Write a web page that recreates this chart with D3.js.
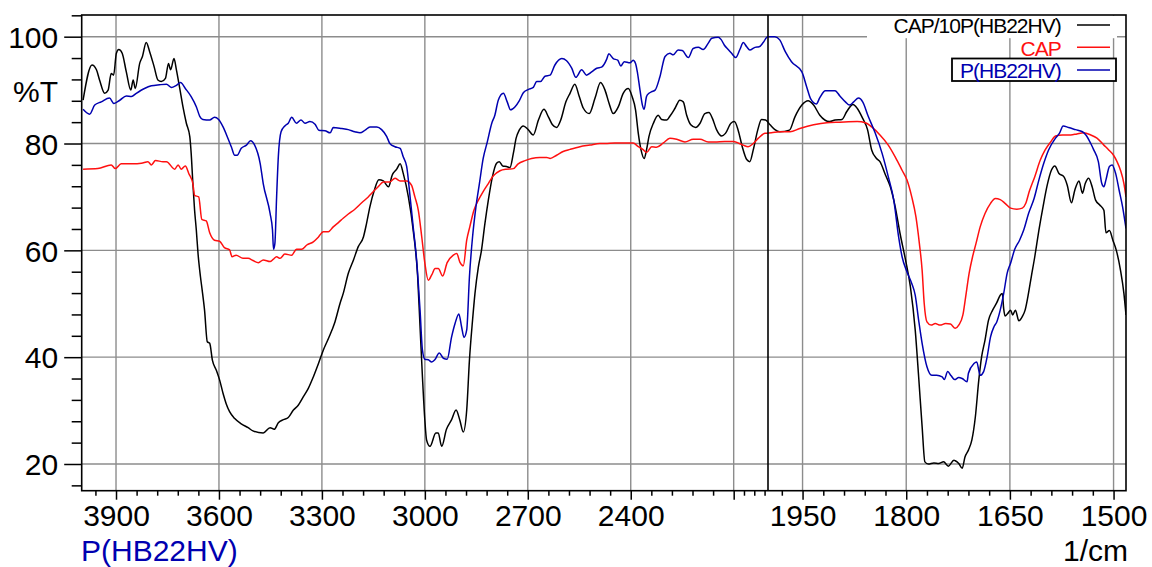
<!DOCTYPE html>
<html>
<head>
<meta charset="utf-8">
<script src="https://cdn.jsdelivr.net/npm/d3@7"></script>
<style>
  html, body { margin: 0; padding: 0; background: #fff; }
  svg { display: block; font-family: "Liberation Sans", Arial, Helvetica, sans-serif; }
</style>
</head>
<body>
<svg id="chart" width="1152" height="567"></svg>
<script>
// ---- Spectra: [wavenumber (1/cm), transmittance (%T)] ----
const capRatio = [ // CAP/10P(HB22HV)
  [3996,88.1],[3970,94.7],[3957,93.8],[3948,91.9],[3933,89.4],[3923,90.0],[3914,93.1],[3907,92.8],[3899,96.9],[3892,97.6],
  [3882,96.9],[3870,93.4],[3857,90.0],[3850,91.9],[3844,90.3],[3831,95.0],[3823,96.3],[3812,98.9],[3802,97.2],[3789,94.4],
  [3778,91.9],[3768,91.6],[3756,92.2],[3747,95.0],[3741,93.8],[3731,95.9],[3724,93.8],[3715,90.6],[3705,86.9],[3695,83.8],
  [3685,81.3],[3681,78.2],[3676,72.5],[3671,67.5],[3666,63.8],[3661,59.4],[3654,55.1],[3649,52.6],[3642,48.8],[3634,42.9],
  [3627,42.6],[3619,39.4],[3608,37.6],[3598,35.7],[3588,33.2],[3579,31.3],[3569,29.8],[3554,28.5],[3535,27.5],[3515,26.8],
  [3501,26.2],[3471,25.8],[3451,26.8],[3439,26.5],[3427,27.7],[3412,28.3],[3398,28.7],[3383,30.1],[3369,31.0],[3354,32.6],
  [3340,34.1],[3325,36.3],[3310,38.8],[3296,41.3],[3281,43.5],[3262,46.6],[3247,50.1],[3238,51.9],[3223,55.7],[3208,58.2],
  [3194,60.7],[3179,62.5],[3170,65.0],[3160,68.2],[3147,71.3],[3134,73.2],[3121,73.0],[3106,71.9],[3095,74.1],[3082,75.2],
  [3072,76.2],[3063,74.4],[3048,70.0],[3034,63.8],[3021,55.1],[3014,45.7],[3007,36.3],[3000,28.2],[2995,24.5],[2985,23.3],
  [2968,25.8],[2961,25.8],[2951,23.3],[2937,26.5],[2922,28.3],[2909,30.1],[2898,28.2],[2888,26.0],[2878,30.1],[2870,39.5],
  [2861,46.9],[2854,51.9],[2844,56.9],[2835,60.0],[2825,65.0],[2815,69.4],[2803,73.8],[2791,76.3],[2783,76.6],[2773,75.8],
  [2762,75.7],[2752,75.5],[2742,78.2],[2734,81.0],[2725,82.5],[2713,83.3],[2699,82.6],[2684,81.6],[2669,84.4],[2653,86.4],
  [2640,85.0],[2628,83.5],[2616,83.0],[2604,84.4],[2589,87.8],[2577,89.4],[2563,91.1],[2550,88.8],[2538,86.6],[2521,85.6],
  [2504,88.5],[2488,91.4],[2475,90.0],[2463,87.5],[2451,85.6],[2436,86.9],[2422,89.4],[2407,90.3],[2396,88.8],[2386,86.3],
  [2378,81.9],[2370,78.8],[2361,77.2],[2354,78.8],[2347,81.3],[2334,83.8],[2320,85.3],[2310,84.5],[2295,84.4],[2286,85.1],
  [2271,86.6],[2257,88.1],[2247,87.8],[2237,85.3],[2225,83.5],[2211,83.0],[2198,83.8],[2184,85.6],[2172,85.8],[2162,84.7],
  [2150,82.6],[2135,81.4],[2124,81.9],[2108,83.8],[2098,84.1],[2087,82.5],[2075,79.4],[2062,77.0],[2053,76.6],[2043,78.8],
  [2030,82.5],[2019,84.5],[2007,84.4],[1997,83.5],[1990,82.6],[1983,82.2],[1969,82.5],[1961,85.0],[1951,87.2],[1942,88.0],
  [1934,87.2],[1925,85.3],[1911,84.1],[1903,84.4],[1893,84.5],[1886,86.0],[1877,87.3],[1871,86.6],[1863,84.7],[1856,82.6],
  [1850,78.8],[1843,77.2],[1838,76.6],[1830,74.1],[1823,71.9],[1816,68.2],[1809,63.2],[1801,58.2],[1794,53.2],[1787,45.1],
  [1782,36.3],[1777,27.0],[1773,20.4],[1768,20.0],[1760,20.2],[1753,20.1],[1746,20.4],[1739,19.6],[1731,20.7],[1729,20.6],
  [1724,20.1],[1719,19.2],[1715,21.3],[1710,22.6],[1705,24.5],[1700,28.8],[1695,35.7],[1691,40.0],[1686,43.2],[1681,46.9],
  [1675,48.8],[1669,50.2],[1664,51.6],[1661,51.9],[1659,49.1],[1657,47.7],[1653,48.2],[1649,48.8],[1646,47.9],[1642,48.8],
  [1637,46.8],[1632,47.6],[1628,48.8],[1624,51.3],[1619,55.1],[1614,58.8],[1608,63.8],[1602,68.2],[1596,72.2],[1590,75.0],
  [1585,75.8],[1579,74.4],[1572,73.8],[1567,72.2],[1561,68.9],[1556,71.3],[1550,73.0],[1545,70.7],[1541,72.5],[1536,73.5],
  [1531,71.9],[1526,69.4],[1520,68.5],[1514,67.5],[1511,63.3],[1506,63.7],[1501,61.9],[1496,60.0],[1490,56.3],[1485,51.9],
  [1482,47.9]
];

const cap = [ // CAP
  [3996,75.2],[3953,75.3],[3914,76.0],[3902,75.3],[3885,76.2],[3851,76.2],[3826,76.3],[3807,76.6],[3797,76.0],[3785,76.8],
  [3763,76.6],[3753,76.6],[3729,75.2],[3719,76.0],[3710,75.2],[3698,75.8],[3688,74.4],[3676,72.5],[3671,70.3],[3659,70.0],
  [3650,65.8],[3637,65.5],[3627,63.3],[3613,61.9],[3598,61.7],[3584,60.5],[3569,60.1],[3562,58.8],[3550,59.1],[3530,58.5],
  [3515,58.5],[3501,58.1],[3485,57.7],[3471,58.2],[3451,57.9],[3442,58.3],[3432,58.8],[3422,58.5],[3408,59.3],[3388,59.1],
  [3374,60.2],[3359,60.2],[3344,61.0],[3325,61.6],[3310,62.5],[3296,63.5],[3281,63.5],[3267,64.4],[3252,65.2],[3238,66.0],
  [3223,66.8],[3204,67.7],[3184,68.9],[3165,70.0],[3150,71.0],[3136,71.9],[3121,72.8],[3102,72.8],[3087,73.5],[3072,73.0],
  [3053,73.0],[3039,72.2],[3029,70.0],[3019,67.5],[3009,62.5],[3000,57.6],[2990,54.4],[2980,55.4],[2970,56.6],[2961,56.6],
  [2948,55.2],[2935,57.7],[2917,59.1],[2907,59.4],[2898,57.8],[2888,57.1],[2878,61.9],[2869,64.4],[2857,67.5],[2844,69.4],
  [2830,71.0],[2815,72.5],[2801,73.9],[2781,74.9],[2762,75.2],[2742,75.3],[2728,76.2],[2708,76.8],[2689,77.2],[2665,77.4],
  [2645,77.4],[2635,77.2],[2616,77.8],[2597,78.5],[2577,78.9],[2548,79.4],[2519,79.7],[2490,80.0],[2475,80.0],[2446,80.1],
  [2393,80.1],[2378,79.4],[2363,78.8],[2354,78.3],[2339,79.4],[2325,79.3],[2305,80.1],[2286,81.0],[2266,80.8],[2242,80.3],
  [2218,80.8],[2198,80.8],[2174,80.3],[2155,80.3],[2126,80.4],[2101,80.4],[2087,80.1],[2072,79.7],[2058,79.4],[2043,80.0],
  [2028,81.0],[2009,81.9],[1995,82.0],[1983,82.2],[1968,82.2],[1954,82.8],[1934,83.5],[1915,83.9],[1896,84.0],[1871,84.1],
  [1859,83.9],[1850,83.1],[1838,81.6],[1826,79.7],[1816,77.5],[1806,75.0],[1799,73.2],[1792,70.0],[1786,66.3],[1781,61.3],
  [1777,56.3],[1774,50.1],[1770,46.6],[1764,46.0],[1758,46.3],[1751,46.0],[1743,46.3],[1736,46.2],[1729,45.4],[1724,46.0],
  [1718,47.9],[1714,51.3],[1709,55.7],[1704,58.8],[1699,61.3],[1693,64.4],[1686,66.9],[1678,68.8],[1671,69.7],[1664,69.5],
  [1657,68.8],[1649,67.9],[1640,67.7],[1632,67.9],[1627,68.8],[1622,71.0],[1614,73.8],[1606,76.9],[1599,78.8],[1591,80.3],
  [1584,81.4],[1574,81.6],[1562,81.6],[1553,81.8],[1543,82.0],[1533,81.6],[1524,81.0],[1514,79.7],[1507,78.8],[1500,77.8],
  [1495,76.6],[1490,75.0],[1485,72.5],[1482,70.0]
];

const pHB = [ // P(HB22HV)
  [3996,86.4],[3977,85.5],[3962,87.2],[3943,87.8],[3919,88.5],[3906,87.5],[3889,88.1],[3870,88.9],[3855,88.8],[3841,89.4],
  [3817,90.3],[3797,90.8],[3773,91.0],[3753,91.1],[3739,90.5],[3724,90.9],[3712,91.4],[3698,90.3],[3681,88.8],[3666,86.9],
  [3656,85.1],[3647,84.5],[3627,84.4],[3613,84.9],[3601,84.5],[3588,83.1],[3574,81.0],[3564,79.4],[3554,77.8],[3547,77.8],
  [3535,79.1],[3520,79.7],[3508,80.5],[3496,79.7],[3480,76.3],[3471,72.5],[3451,66.9],[3444,63.8],[3441,60.2],[3437,61.3],
  [3432,70.0],[3427,77.5],[3419,82.2],[3408,83.3],[3398,83.8],[3388,84.9],[3374,83.8],[3361,84.4],[3349,83.8],[3335,84.1],
  [3320,83.6],[3309,82.5],[3291,82.4],[3276,82.0],[3267,83.0],[3242,82.8],[3223,82.6],[3204,82.2],[3189,82.0],[3174,82.5],
  [3160,83.1],[3140,83.1],[3126,82.6],[3111,81.3],[3102,80.0],[3087,79.4],[3072,79.1],[3063,77.5],[3053,75.7],[3043,70.0],
  [3034,64.4],[3024,58.2],[3014,48.8],[3007,41.3],[3000,39.6],[2990,39.5],[2980,39.1],[2971,39.5],[2958,40.8],[2946,39.8],
  [2935,39.6],[2922,43.8],[2912,46.3],[2901,48.1],[2893,45.7],[2886,43.7],[2878,45.1],[2870,55.1],[2861,62.5],[2851,68.2],
  [2841,72.5],[2830,77.2],[2818,80.3],[2805,83.8],[2796,85.3],[2786,88.1],[2771,89.4],[2760,87.8],[2750,86.3],[2737,86.9],
  [2725,88.0],[2713,89.5],[2699,90.1],[2684,90.5],[2674,91.6],[2663,91.6],[2650,92.6],[2635,92.8],[2621,94.7],[2601,95.9],
  [2587,95.5],[2572,94.1],[2560,92.4],[2543,93.8],[2529,92.8],[2514,93.4],[2499,94.1],[2485,94.3],[2470,95.8],[2464,96.8],
  [2451,95.9],[2438,95.6],[2429,94.5],[2419,95.3],[2402,95.1],[2393,95.6],[2386,95.0],[2380,93.1],[2373,90.0],[2366,87.2],
  [2361,86.4],[2354,88.8],[2347,89.4],[2339,89.7],[2329,90.0],[2315,92.5],[2300,96.3],[2286,96.9],[2276,96.6],[2262,97.5],
  [2250,97.4],[2232,96.1],[2218,97.8],[2203,98.0],[2189,97.6],[2174,98.8],[2164,99.7],[2145,99.9],[2137,99.5],[2127,98.4],
  [2116,97.6],[2106,96.9],[2094,96.1],[2082,97.6],[2072,98.9],[2062,98.1],[2053,97.5],[2038,98.0],[2026,98.1],[2014,98.9],
  [2001,100.0],[1995,100.0],[1990,100.0],[1983,99.4],[1975,97.2],[1966,95.3],[1951,93.4],[1944,90.6],[1938,88.3],[1930,87.4],
  [1925,88.6],[1917,89.9],[1903,89.9],[1896,88.9],[1888,87.8],[1882,87.2],[1876,87.8],[1869,88.5],[1863,87.8],[1855,85.1],
  [1845,82.0],[1835,78.2],[1826,73.8],[1818,69.4],[1811,62.5],[1806,58.8],[1799,56.0],[1792,53.8],[1787,51.6],[1782,46.9],
  [1777,42.6],[1770,38.2],[1763,36.6],[1756,36.6],[1748,36.3],[1745,35.8],[1740,37.3],[1735,36.5],[1730,35.8],[1724,36.2],
  [1719,36.0],[1712,35.4],[1710,37.0],[1702,38.8],[1698,39.1],[1693,36.6],[1688,37.3],[1683,40.0],[1678,43.8],[1673,45.7],
  [1669,46.6],[1664,48.8],[1659,51.9],[1654,55.7],[1649,57.6],[1643,60.2],[1636,61.9],[1630,63.8],[1623,66.9],[1615,69.7],
  [1608,73.2],[1601,76.3],[1594,78.8],[1584,81.0],[1578,82.0],[1573,83.3],[1565,83.0],[1555,82.6],[1545,82.2],[1540,81.6],
  [1533,80.0],[1529,78.9],[1522,76.6],[1517,72.5],[1514,71.9],[1511,73.2],[1506,75.7],[1502,76.0],[1497,74.4],[1492,71.3],
  [1487,68.2],[1482,64.1]
];

// ---- Axis ticks ----
const xLabelTicks = [3900, 3600, 3300, 3000, 2700, 2400, 1950, 1800, 1650, 1500];
const xPlainMajorTicks = [2100];
const xMinorTicks = [3960, 3840, 3780, 3720, 3660, 3540, 3480, 3420, 3360, 3240, 3180, 3120, 3060,
  2940, 2880, 2820, 2760, 2640, 2580, 2520, 2460, 2340, 2280, 2220, 2160, 2070, 2040, 2010,
  1980, 1920, 1890, 1860, 1830, 1770, 1740, 1710, 1680, 1620, 1590, 1560, 1530];
const xGridTicks = [3900, 3600, 3300, 3000, 2700, 2400, 2100, 1950, 1800, 1650, 1500];
const xBreak = 2000; // scale changes here: 4000-2000 compressed, 2000-1482 expanded
const yLabelTicks = [20, 40, 60, 80, 100];
const yMinorTicks = [16, 24, 28, 32, 36, 44, 48, 52, 56, 64, 68, 72, 76, 84, 88, 92, 96, 104];

const seriesNames = ["CAP/10P(HB22HV)", "CAP", "P(HB22HV)"];
const seriesColors = ["#000000", "#ff1010", "#0000b0"];
const seriesData = [capRatio, cap, pHB];

// ---- Layout ----
const frame = { left: 81.7, right: 1126, top: 15, bottom: 490.7 };
const breakX = 768;

const x = d3.scaleLinear()
  .domain([4000, xBreak, 1482])
  .range([frame.left, breakX, frame.right]);
const y = d3.scaleLinear()
  .domain([15, 104.06])
  .range([frame.bottom, frame.top]);

const svg = d3.select("#chart");
const gridColor = "#8c8c8c";

svg.append("defs").append("clipPath").attr("id", "plotClip")
  .append("rect")
  .attr("x", frame.left).attr("y", frame.top)
  .attr("width", frame.right - frame.left)
  .attr("height", frame.bottom - frame.top);

// grid
const grid = svg.append("g").attr("class", "grid");
grid.selectAll("line.v").data(xGridTicks).join("line")
  .attr("class", "v")
  .attr("x1", d => x(d)).attr("x2", d => x(d))
  .attr("y1", frame.top).attr("y2", frame.bottom)
  .attr("stroke", gridColor).attr("stroke-width", 1.4);
grid.selectAll("line.h").data(yLabelTicks).join("line")
  .attr("class", "h")
  .attr("x1", frame.left).attr("x2", frame.right)
  .attr("y1", d => y(d)).attr("y2", d => y(d))
  .attr("stroke", gridColor).attr("stroke-width", 1.4);

// white patch behind the first legend row
const legendRight = 1060.7;
svg.append("rect")
  .attr("x", 867).attr("y", frame.top + 0.8)
  .attr("width", 250).attr("height", 22.4)
  .attr("fill", "#fff");

// spectra
const line = d3.line()
  .x(d => x(d[0]))
  .y(d => y(d[1]))
  .curve(d3.curveMonotoneX);

svg.append("g").attr("clip-path", "url(#plotClip)")
  .selectAll("path").data(seriesData).join("path")
  .attr("d", line)
  .attr("fill", "none")
  .attr("stroke", (d, i) => seriesColors[i])
  .attr("stroke-width", 1.5)
  .attr("stroke-linejoin", "round");

// break line at 2000
svg.append("line")
  .attr("x1", x(xBreak)).attr("x2", x(xBreak))
  .attr("y1", frame.top).attr("y2", frame.bottom)
  .attr("stroke", "#000").attr("stroke-width", 1.6);

// frame
svg.append("rect")
  .attr("x", frame.left).attr("y", frame.top)
  .attr("width", frame.right - frame.left)
  .attr("height", frame.bottom - frame.top)
  .attr("fill", "none").attr("stroke", "#000").attr("stroke-width", 1.6);

// axes
const axisFont = 30;
function styleAxis(g) {
  g.select(".domain").remove();
  g.selectAll(".tick line").attr("stroke", "#000").attr("stroke-width", 1.5);
  g.selectAll(".tick text").attr("fill", "#000")
    .attr("font-size", axisFont)
    .attr("font-family", "'Liberation Sans', Arial, sans-serif");
}

svg.append("g").attr("transform", `translate(0,${frame.bottom})`)
  .call(d3.axisBottom(x).tickValues(xMinorTicks).tickSize(5).tickFormat(""))
  .call(styleAxis);
svg.append("g").attr("transform", `translate(0,${frame.bottom})`)
  .call(d3.axisBottom(x).tickValues(xPlainMajorTicks).tickSize(9).tickFormat(""))
  .call(styleAxis);
svg.append("g").attr("transform", `translate(0,${frame.bottom})`)
  .call(d3.axisBottom(x).tickValues(xLabelTicks).tickSize(9).tickPadding(5).tickFormat(d3.format("d")))
  .call(styleAxis);

svg.append("g").attr("transform", `translate(${frame.left},0)`)
  .call(d3.axisLeft(y).tickValues(yMinorTicks.filter(v => y(v) >= frame.top)).tickSize(10).tickFormat(""))
  .call(styleAxis);
svg.append("g").attr("transform", `translate(${frame.left},0)`)
  .call(d3.axisLeft(y).tickValues(yLabelTicks).tickSize(17.5).tickPadding(6).tickFormat(d3.format("d")))
  .call(styleAxis)
  .call(g => g.selectAll(".tick text").attr("dy", "0.36em"));

// axis titles
svg.append("text")
  .attr("x", 13).attr("y", 101.5)
  .attr("font-size", axisFont).attr("fill", "#000")
  .text("%T");
svg.append("text")
  .attr("x", 81).attr("y", 561)
  .attr("font-size", axisFont).attr("fill", seriesColors[2])
  .text("P(HB22HV)");
svg.append("text")
  .attr("x", 1128).attr("y", 561)
  .attr("text-anchor", "end")
  .attr("font-size", axisFont).attr("fill", "#000")
  .text("1/cm");

// legend
const legendRows = [25, 47.3, 70];
svg.append("rect")
  .attr("x", 952).attr("y", 58.5)
  .attr("width", 164).attr("height", 22.5)
  .attr("fill", "#fff").attr("stroke", "#000").attr("stroke-width", 1.8);

const legend = svg.append("g").attr("class", "legend");
seriesNames.forEach((name, i) => {
  legend.append("text")
    .attr("x", legendRight).attr("y", legendRows[i] + 8.2)
    .attr("text-anchor", "end")
    .attr("font-size", 21)
    .attr("letter-spacing", "-1px")
    .attr("fill", seriesColors[i])
    .text(name);
  legend.append("line")
    .attr("x1", 1077).attr("x2", 1110)
    .attr("y1", legendRows[i]).attr("y2", legendRows[i])
    .attr("stroke", seriesColors[i]).attr("stroke-width", 1.5);
});
</script>
</body>
</html>
